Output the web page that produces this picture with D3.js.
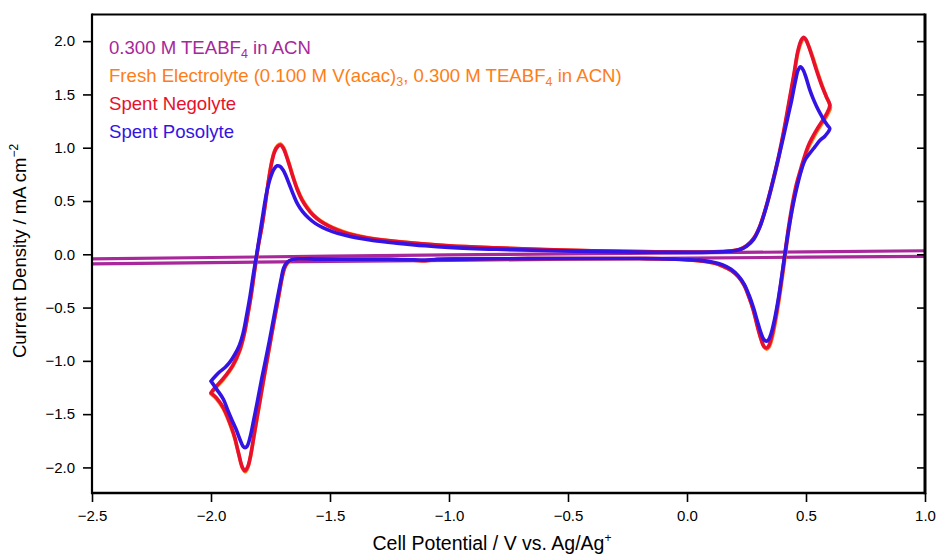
<!DOCTYPE html>
<html>
<head>
<meta charset="utf-8">
<script src="https://cdn.jsdelivr.net/npm/d3@7"></script>
<style>
  html, body { margin: 0; padding: 0; background: #fff; }
  svg { display: block; font-family: "Liberation Sans", Arial, Helvetica, sans-serif; }
</style>
</head>
<body>
<svg id="chart" width="938" height="555"></svg>
<script>
// Cyclic voltammograms: [potential (V vs Ag/Ag+), current density (mA cm^-2)]

// Supporting electrolyte only: forward sweep and reverse sweep
const blankForward = [
  [-2.6, -0.045], [-2.0, -0.03], [-1.5, -0.018], [-1.0, -0.006], [-0.5, 0.004],
  [0.0, 0.013], [0.5, 0.023], [1.05, 0.034]
];
const blankReverse = [
  [1.05, -0.019], [0.5, -0.027], [0.0, -0.036], [-0.5, -0.046], [-1.0, -0.057],
  [-1.5, -0.067], [-2.0, -0.078], [-2.6, -0.092]
];

// Fresh electrolyte
const freshCV = [
  [-2.000, -1.31], [-1.983, -1.26], [-1.950, -1.18], [-1.908, -1.05], [-1.878, -0.90],
  [-1.860, -0.75], [-1.845, -0.57], [-1.830, -0.37], [-1.815, -0.13], [-1.800, 0.09],
  [-1.787, 0.25], [-1.772, 0.47], [-1.759, 0.68], [-1.745, 0.87], [-1.733, 0.97],
  [-1.720, 1.02], [-1.708, 1.035], [-1.695, 1.00], [-1.683, 0.93], [-1.670, 0.84],
  [-1.655, 0.73], [-1.638, 0.62], [-1.618, 0.52], [-1.595, 0.44], [-1.570, 0.37],
  [-1.540, 0.315], [-1.505, 0.27], [-1.465, 0.23], [-1.420, 0.195], [-1.370, 0.168],
  [-1.320, 0.148], [-1.200, 0.117], [-1.000, 0.08],
  [-0.800, 0.06], [-0.600, 0.045], [-0.400, 0.033], [-0.200, 0.025], [0.000, 0.02],
  [0.100, 0.022], [0.180, 0.03], [0.220, 0.045], [0.250, 0.078], [0.280, 0.145],
  [0.305, 0.25], [0.330, 0.42], [0.355, 0.62], [0.383, 0.88], [0.410, 1.18],
  [0.430, 1.43], [0.450, 1.68], [0.465, 1.88], [0.480, 1.99], [0.490, 2.025],
  [0.500, 2.01], [0.512, 1.95], [0.527, 1.86], [0.547, 1.72], [0.567, 1.59],
  [0.587, 1.47], [0.603, 1.38],
  [0.590, 1.31], [0.568, 1.23], [0.548, 1.16], [0.528, 1.08], [0.510, 1.00],
  [0.491, 0.875], [0.477, 0.77], [0.462, 0.65], [0.447, 0.49], [0.434, 0.32],
  [0.422, 0.14], [0.412, -0.03], [0.400, -0.23], [0.387, -0.43], [0.372, -0.63],
  [0.357, -0.79], [0.345, -0.87], [0.335, -0.89], [0.324, -0.87], [0.312, -0.80],
  [0.297, -0.68], [0.280, -0.53], [0.262, -0.41], [0.242, -0.30], [0.217, -0.215],
  [0.187, -0.155], [0.150, -0.112], [0.110, -0.082], [0.050, -0.06], [-0.050, -0.045],
  [-0.200, -0.04], [-0.400, -0.04], [-0.600, -0.04], [-0.800, -0.042], [-0.950, -0.045],
  [-1.050, -0.05], [-1.100, -0.06], [-1.150, -0.055], [-1.250, -0.05], [-1.400, -0.05],
  [-1.550, -0.045], [-1.620, -0.04], [-1.655, -0.05], [-1.675, -0.075], [-1.690, -0.13],
  [-1.700, -0.21], [-1.718, -0.43], [-1.738, -0.67], [-1.758, -0.92], [-1.778, -1.17],
  [-1.798, -1.43], [-1.818, -1.69], [-1.833, -1.89], [-1.845, -2.00], [-1.856, -2.04],
  [-1.867, -2.01], [-1.884, -1.87], [-1.900, -1.73], [-1.913, -1.64], [-1.930, -1.54],
  [-1.948, -1.45], [-1.976, -1.36], [-2.000, -1.31]
];

// Spent negolyte
const negolyteCV = [
  [-2.000, -1.30], [-1.983, -1.25], [-1.950, -1.17], [-1.908, -1.04], [-1.878, -0.89],
  [-1.860, -0.74], [-1.845, -0.56], [-1.830, -0.36], [-1.815, -0.12], [-1.800, 0.10],
  [-1.787, 0.25], [-1.772, 0.47], [-1.759, 0.68], [-1.745, 0.86], [-1.733, 0.96],
  [-1.720, 1.01], [-1.708, 1.025], [-1.695, 0.99], [-1.683, 0.92], [-1.670, 0.83],
  [-1.655, 0.72], [-1.638, 0.61], [-1.618, 0.51], [-1.595, 0.43], [-1.570, 0.365],
  [-1.540, 0.31], [-1.505, 0.265], [-1.465, 0.225], [-1.420, 0.19], [-1.370, 0.165],
  [-1.320, 0.145], [-1.200, 0.115], [-1.000, 0.08],
  [-0.800, 0.06], [-0.600, 0.045], [-0.400, 0.033], [-0.200, 0.025], [0.000, 0.02],
  [0.100, 0.022], [0.180, 0.03], [0.220, 0.045], [0.250, 0.08], [0.280, 0.15],
  [0.305, 0.26], [0.330, 0.43], [0.355, 0.64], [0.383, 0.90], [0.410, 1.20],
  [0.430, 1.45], [0.450, 1.70], [0.465, 1.90], [0.478, 2.00], [0.488, 2.035],
  [0.498, 2.02], [0.510, 1.96], [0.525, 1.86], [0.545, 1.72], [0.565, 1.59],
  [0.585, 1.48], [0.600, 1.40],
  [0.587, 1.32], [0.565, 1.24], [0.545, 1.17], [0.525, 1.09], [0.508, 1.01],
  [0.489, 0.885], [0.475, 0.78], [0.460, 0.66], [0.445, 0.50], [0.432, 0.33],
  [0.420, 0.15], [0.410, -0.02], [0.398, -0.22], [0.385, -0.42], [0.370, -0.62],
  [0.355, -0.78], [0.343, -0.86], [0.333, -0.88], [0.322, -0.86], [0.310, -0.79],
  [0.295, -0.67], [0.278, -0.52], [0.260, -0.40], [0.240, -0.29], [0.215, -0.21],
  [0.185, -0.15], [0.150, -0.11], [0.110, -0.08], [0.050, -0.06], [-0.050, -0.045],
  [-0.200, -0.04], [-0.400, -0.04], [-0.600, -0.04], [-0.800, -0.042], [-0.950, -0.045],
  [-1.050, -0.05], [-1.100, -0.06], [-1.150, -0.055], [-1.250, -0.05], [-1.400, -0.05],
  [-1.550, -0.045], [-1.620, -0.04], [-1.655, -0.05], [-1.675, -0.07], [-1.690, -0.12],
  [-1.700, -0.20], [-1.718, -0.42], [-1.738, -0.66], [-1.758, -0.91], [-1.778, -1.16],
  [-1.798, -1.42], [-1.818, -1.68], [-1.833, -1.88], [-1.845, -1.99], [-1.857, -2.03],
  [-1.868, -2.00], [-1.885, -1.86], [-1.900, -1.72], [-1.913, -1.63], [-1.930, -1.53],
  [-1.948, -1.44], [-1.976, -1.35], [-2.000, -1.30]
];

// Spent posolyte
const posolyteCV = [
  [-2.000, -1.19], [-1.980, -1.14], [-1.962, -1.10], [-1.940, -1.06], [-1.920, -1.01],
  [-1.900, -0.94], [-1.880, -0.85], [-1.865, -0.74], [-1.850, -0.57], [-1.835, -0.38],
  [-1.820, -0.16], [-1.808, 0.00], [-1.794, 0.20], [-1.780, 0.40], [-1.766, 0.58],
  [-1.750, 0.72], [-1.735, 0.80], [-1.722, 0.83], [-1.710, 0.825], [-1.697, 0.79],
  [-1.684, 0.73], [-1.670, 0.65], [-1.654, 0.56], [-1.636, 0.47], [-1.615, 0.40],
  [-1.590, 0.34], [-1.562, 0.29], [-1.530, 0.25], [-1.490, 0.213], [-1.440, 0.18],
  [-1.390, 0.155], [-1.320, 0.13], [-1.220, 0.105], [-1.100, 0.08],
  [-1.000, 0.065], [-0.800, 0.047], [-0.600, 0.035], [-0.400, 0.027], [-0.200, 0.02],
  [0.000, 0.018], [0.100, 0.02], [0.180, 0.028], [0.220, 0.042], [0.250, 0.075],
  [0.280, 0.14], [0.305, 0.25], [0.330, 0.42], [0.355, 0.63], [0.383, 0.89],
  [0.405, 1.10], [0.425, 1.30], [0.440, 1.45], [0.455, 1.62], [0.467, 1.73],
  [0.477, 1.76], [0.488, 1.73], [0.500, 1.66], [0.515, 1.55], [0.530, 1.46],
  [0.545, 1.385], [0.560, 1.32], [0.575, 1.26], [0.590, 1.21], [0.600, 1.18],
  [0.580, 1.11], [0.559, 1.07], [0.538, 1.01], [0.517, 0.95], [0.496, 0.885],
  [0.478, 0.77], [0.462, 0.63], [0.447, 0.48], [0.433, 0.31], [0.420, 0.13],
  [0.408, -0.05], [0.396, -0.24], [0.383, -0.43], [0.368, -0.61], [0.354, -0.74],
  [0.343, -0.80], [0.334, -0.815], [0.323, -0.80], [0.311, -0.74], [0.296, -0.63],
  [0.279, -0.50], [0.260, -0.38], [0.240, -0.28], [0.215, -0.20], [0.185, -0.14],
  [0.150, -0.10], [0.110, -0.075], [0.050, -0.055], [-0.050, -0.045], [-0.200, -0.04],
  [-0.400, -0.04], [-0.600, -0.04], [-0.800, -0.042], [-0.950, -0.045], [-1.050, -0.048],
  [-1.100, -0.055], [-1.150, -0.052], [-1.250, -0.048], [-1.400, -0.048], [-1.550, -0.045],
  [-1.620, -0.042], [-1.660, -0.05], [-1.680, -0.075], [-1.695, -0.13], [-1.705, -0.23],
  [-1.725, -0.46], [-1.745, -0.70], [-1.765, -0.93], [-1.787, -1.17], [-1.805, -1.38],
  [-1.820, -1.55], [-1.836, -1.72], [-1.848, -1.80], [-1.857, -1.815], [-1.866, -1.80],
  [-1.878, -1.74], [-1.895, -1.64], [-1.913, -1.55], [-1.930, -1.46], [-1.948, -1.36],
  [-1.975, -1.27], [-2.000, -1.19]
];

const xTicks = [-2.5, -2.0, -1.5, -1.0, -0.5, 0.0, 0.5, 1.0];
const yTicks = [-2.0, -1.5, -1.0, -0.5, 0.0, 0.5, 1.0, 1.5, 2.0];

const seriesColors = ["#a8279b", "#ff7d16", "#e8102c", "#3414e4"];

const svg = d3.select("#chart");
const plotLeft = 92, plotRight = 925, plotTop = 14.5, plotBottom = 493;

const x = d3.scaleLinear().domain([-2.5, 1.0]).range([plotLeft, plotRight]);
const y = d3.scaleLinear().domain([-2.24, 2.25]).range([plotBottom, plotTop]);
const fmt = d3.format(".1f");

svg.append("defs").append("clipPath").attr("id", "plot-clip")
  .append("rect").attr("x", plotLeft).attr("y", plotTop)
  .attr("width", plotRight - plotLeft).attr("height", plotBottom - plotTop);

const smoothLine = d3.line()
  .x(d => x(d[0])).y(d => y(d[1]))
  .curve(d3.curveCatmullRom.alpha(0.5));
const straightLine = d3.line()
  .x(d => x(d[0])).y(d => y(d[1]));

const curves = svg.append("g").attr("clip-path", "url(#plot-clip)");

// Blank electrolyte (two sweeps)
[blankForward, blankReverse].forEach(data => {
  curves.append("path")
    .datum(data)
    .attr("d", straightLine)
    .attr("fill", "none")
    .attr("stroke", seriesColors[0])
    .attr("stroke-width", 3.2);
});

// Redox-active electrolytes
[freshCV, negolyteCV, posolyteCV].forEach((data, i) => {
  curves.append("path")
    .datum(data)
    .attr("d", smoothLine)
    .attr("fill", "none")
    .attr("stroke", seriesColors[i + 1])
    .attr("stroke-width", 3.6)
    .attr("stroke-linejoin", "round")
    .attr("stroke-linecap", "round");
});

// Axes
const xAxis = svg.append("g").attr("transform", `translate(0,${plotBottom})`)
  .call(d3.axisBottom(x).tickValues(xTicks).tickFormat(fmt).tickSize(9).tickPadding(8));
const yAxis = svg.append("g").attr("transform", `translate(${plotLeft},0)`)
  .call(d3.axisLeft(y).tickValues(yTicks).tickFormat(fmt).tickSize(9).tickPadding(8));
const yRight = svg.append("g").attr("transform", `translate(${plotRight},0)`)
  .call(d3.axisLeft(y).tickValues(yTicks).tickFormat("").tickSize(8));

[xAxis, yAxis, yRight].forEach(g => {
  g.select(".domain").remove();
  g.selectAll(".tick line").attr("stroke", "#000").attr("stroke-width", 1.6);
  g.selectAll(".tick text").attr("fill", "#000").attr("font-size", 15)
    .attr("font-family", "Liberation Sans, Arial, sans-serif");
});

// Frame
const frame = svg.append("g").attr("stroke", "#000").attr("fill", "none");
frame.append("line").attr("x1", plotLeft).attr("x2", plotRight).attr("y1", plotTop).attr("y2", plotTop).attr("stroke-width", 2);
frame.append("line").attr("x1", plotLeft).attr("x2", plotRight).attr("y1", plotBottom).attr("y2", plotBottom).attr("stroke-width", 2.6);
frame.append("line").attr("x1", plotLeft).attr("x2", plotLeft).attr("y1", plotTop - 1).attr("y2", plotBottom + 1.3).attr("stroke-width", 2.2);
frame.append("line").attr("x1", plotRight).attr("x2", plotRight).attr("y1", plotTop - 1).attr("y2", plotBottom + 1.3).attr("stroke-width", 3);

// Axis titles
const xTitle = svg.append("text")
  .attr("x", 492).attr("y", 550)
  .attr("text-anchor", "middle").attr("font-size", 19.5).attr("fill", "#000");
xTitle.append("tspan").text("Cell Potential / V vs.  Ag/Ag");
xTitle.append("tspan").attr("dy", -8).attr("font-size", 12).text("+");

const yTitle = svg.append("text")
  .attr("transform", "translate(26,251) rotate(-90)")
  .attr("text-anchor", "middle").attr("font-size", 18.5).attr("fill", "#000");
yTitle.append("tspan").text("Current Density / mA cm");
yTitle.append("tspan").attr("dy", -8).attr("font-size", 12).text("\u22122");

// Legend
const legendItems = [
  [["0.300 M TEABF", 0], ["4", 1], [" in ACN", 0]],
  [["Fresh Electrolyte (0.100 M V(acac)", 0], ["3", 1], [", 0.300 M TEABF", 0], ["4", 1], [" in ACN)", 0]],
  [["Spent Negolyte", 0]],
  [["Spent Posolyte", 0]]
];
const legend = svg.append("g");
legendItems.forEach((parts, i) => {
  const t = legend.append("text")
    .attr("x", 109).attr("y", 53.5 + i * 28)
    .attr("font-size", 18.6).attr("fill", seriesColors[i]);
  let shifted = false;
  parts.forEach(([s, sub]) => {
    const ts = t.append("tspan").text(s);
    if (sub && !shifted) { ts.attr("dy", 4).attr("font-size", 12.5); shifted = true; }
    else if (!sub && shifted) { ts.attr("dy", -4); shifted = false; }
  });
});
</script>
</body>
</html>
